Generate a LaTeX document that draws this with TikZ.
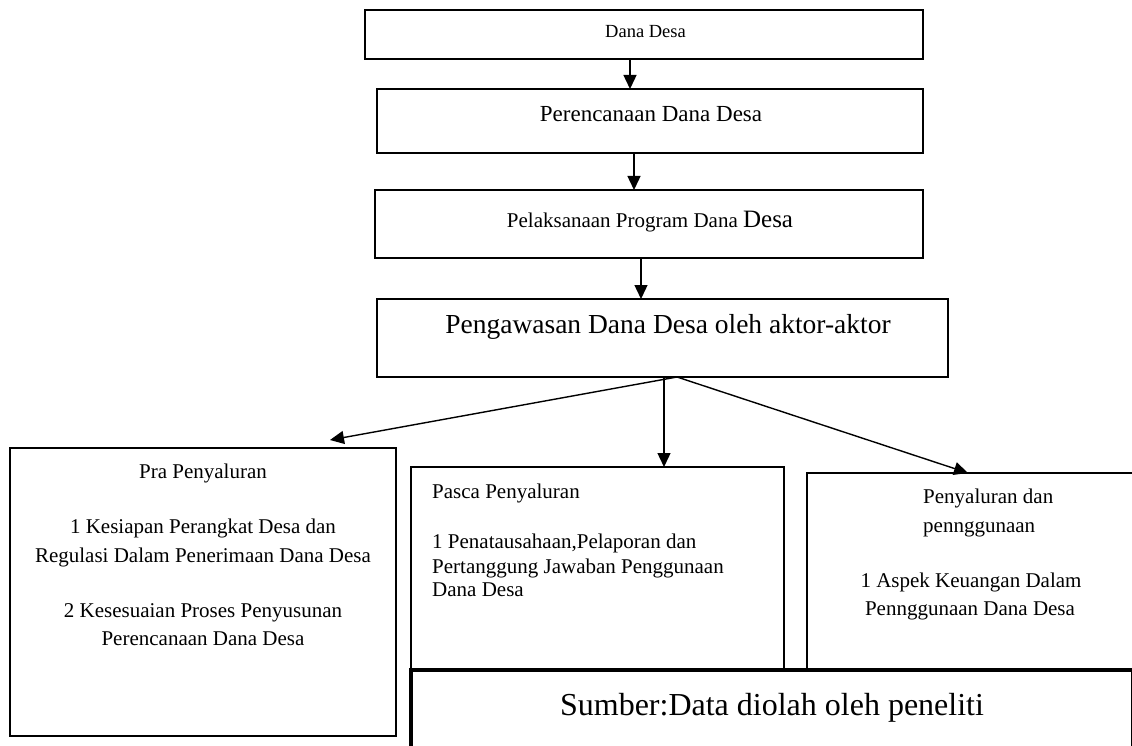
\documentclass[tikz,border=0pt]{standalone}
\usepackage{fontspec}
\setmainfont{Liberation Serif}
\usetikzlibrary{arrows.meta}
\newcommand\fsz[1]{\fontsize{#1pt}{#1pt}\selectfont}
\begin{document}
\begin{tikzpicture}[x=1pt,y=-1pt,
 box/.style={draw=black, line width=1.5pt, fill=white, inner sep=0pt, outer sep=0pt, anchor=north west},
 arr/.style={line width=1.4pt, -{Triangle[width=13pt,length=14pt]}},
 txt/.style={inner sep=0pt, anchor=base},
 ltxt/.style={inner sep=0pt, anchor=base west}]
\path[use as bounding box] (0,0) rectangle (1132,746);
\clip (0,0) rectangle (1132,746);

% top chain
\node[box, minimum width=558pt, minimum height=49pt] (dana) at (365,10) {};
\node[txt] (danat) at (645.5,38) {\fsz{18.5}Dana Desa};

\node[box, minimum width=546pt, minimum height=64pt] (plan) at (377,89) {};
\node[txt] (plant) at (651,122) {\fsz{23}Perencanaan Dana Desa};

\node[box, minimum width=548pt, minimum height=68pt] (pel) at (375,190) {};
\node[txt] (pelt) at (650,227) {\fsz{21}Pelaksanaan Program Dana {\fsz{25}Desa}};

\node[box, minimum width=571pt, minimum height=78pt] (pen) at (377,299) {};
\node[txt] (pent) at (668,333) {\fsz{27.5}Pengawasan Dana Desa oleh aktor-aktor};

% bottom boxes
\node[box, minimum width=386pt, minimum height=288pt] (pra) at (10,448) {};
\node[txt] (pra1) at (203,478) {\fsz{21}Pra Penyaluran};
\node[txt] (pra2) at (203,533) {\fsz{21}1 Kesiapan Perangkat Desa dan};
\node[txt] (pra3) at (203,562) {\fsz{21}Regulasi Dalam Penerimaan Dana Desa};
\node[txt] (pra4) at (203,617) {\fsz{21}2 Kesesuaian Proses Penyusunan};
\node[txt] (pra5) at (203,645) {\fsz{21}Perencanaan Dana Desa};

\node[box, minimum width=373pt, minimum height=215pt] (pasca) at (411,467) {};
\node[ltxt] (pasca1) at (432,498) {\fsz{21}Pasca Penyaluran};
\node[ltxt] (pasca2) at (432,548) {\fsz{21}1 Penatausahaan,Pelaporan dan};
\node[ltxt] (pasca3) at (432,573) {\fsz{21}Pertanggung Jawaban Penggunaan};
\node[ltxt] (pasca4) at (432,596) {\fsz{21}Dana Desa};

\node[box, minimum width=340pt, minimum height=210pt] (peny) at (807,473) {};
\node[ltxt] (peny1) at (923,503) {\fsz{21}Penyaluran dan};
\node[ltxt] (peny2) at (923,532) {\fsz{21}pennggunaan};
\node[txt] (peny3) at (971,587) {\fsz{21}1 Aspek Keuangan Dalam};
\node[txt] (peny4) at (970,615) {\fsz{21}Pennggunaan Dana Desa};

\node[box, line width=4.5pt, minimum width=722pt, minimum height=100pt] (src) at (411,670) {};
\node[txt] (srct) at (772,715) {\fsz{32}Sumber:Data diolah oleh peneliti};

% connectors
\coordinate (a1) at (630,0);
\coordinate (a2) at (634,0);
\coordinate (a3) at (641,0);
\coordinate (brx) at (677,0);
\coordinate (mx) at (664,0);
\coordinate (rx) at (968,0);
\coordinate (t1) at (330,440);
\draw[arr] (dana.south -| a1) -- (plan.north -| a1);
\draw[arr] (plan.south -| a2) -- (pel.north -| a2);
\draw[arr] (pel.south -| a3) -- (pen.north -| a3);
\draw[arr] (pen.south -| brx) -- (t1);
\draw[arr] (pen.south -| mx) -- (pasca.north -| mx);
\draw[arr] (pen.south -| brx) -- (peny.north -| rx);
\end{tikzpicture}
\end{document}
